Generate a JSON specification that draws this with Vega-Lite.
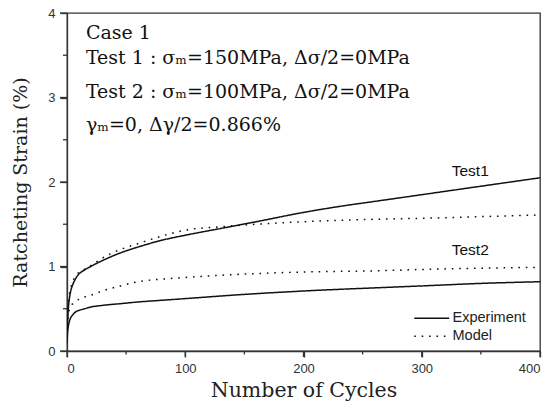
{
  "$schema": "https://vega.github.io/schema/vega-lite/v6.json",
  "width": 473,
  "height": 338,
  "autosize": "none",
  "padding": {"left": 67, "top": 13, "right": 12, "bottom": 60},
  "background": "white",
  "config": {
    "view": {"stroke": "#333", "strokeWidth": 1.3},
    "axis": {
      "grid": false,
      "domainColor": "#333",
      "domainWidth": 1.3,
      "labelFont": "Liberation Sans",
      "labelFontSize": 13,
      "labelColor": "#333",
      "labelPadding": 5,
      "titleFont": "DejaVu Serif",
      "titleFontSize": 19,
      "titleFontWeight": "normal",
      "titleColor": "#222"
    },
    "legend": {
      "orient": "none",
      "legendX": 370,
      "legendY": 298,
      "padding": 0,
      "symbolType": "M-6,0H1",
      "symbolSize": 100,
      "symbolStrokeWidth": 1.5,
      "symbolStrokeColor": "#111",
      "symbolFillColor": "transparent",
      "rowPadding": 3,
      "labelFont": "Liberation Sans",
      "labelFontSize": 14.5,
      "labelColor": "#222",
      "labelOffset": 1,
      "title": null
    }
  },
  "datasets": {
    "curves": [
      {"test": "Test1", "type": "Experiment", "cycle": 0, "strain": 0.12},
      {"test": "Test1", "type": "Experiment", "cycle": 0.5, "strain": 0.35},
      {"test": "Test1", "type": "Experiment", "cycle": 1, "strain": 0.48},
      {"test": "Test1", "type": "Experiment", "cycle": 2, "strain": 0.62},
      {"test": "Test1", "type": "Experiment", "cycle": 3, "strain": 0.7},
      {"test": "Test1", "type": "Experiment", "cycle": 5, "strain": 0.79},
      {"test": "Test1", "type": "Experiment", "cycle": 7, "strain": 0.85},
      {"test": "Test1", "type": "Experiment", "cycle": 10, "strain": 0.91},
      {"test": "Test1", "type": "Experiment", "cycle": 15, "strain": 0.96},
      {"test": "Test1", "type": "Experiment", "cycle": 20, "strain": 1.0},
      {"test": "Test1", "type": "Experiment", "cycle": 30, "strain": 1.07},
      {"test": "Test1", "type": "Experiment", "cycle": 45, "strain": 1.16},
      {"test": "Test1", "type": "Experiment", "cycle": 60, "strain": 1.23},
      {"test": "Test1", "type": "Experiment", "cycle": 80, "strain": 1.31},
      {"test": "Test1", "type": "Experiment", "cycle": 100, "strain": 1.37},
      {"test": "Test1", "type": "Experiment", "cycle": 130, "strain": 1.45},
      {"test": "Test1", "type": "Experiment", "cycle": 160, "strain": 1.53},
      {"test": "Test1", "type": "Experiment", "cycle": 200, "strain": 1.64},
      {"test": "Test1", "type": "Experiment", "cycle": 230, "strain": 1.71},
      {"test": "Test1", "type": "Experiment", "cycle": 265, "strain": 1.78},
      {"test": "Test1", "type": "Experiment", "cycle": 300, "strain": 1.85},
      {"test": "Test1", "type": "Experiment", "cycle": 350, "strain": 1.95},
      {"test": "Test1", "type": "Experiment", "cycle": 400, "strain": 2.05},

      {"test": "Test1", "type": "Model", "cycle": 0, "strain": 0.15},
      {"test": "Test1", "type": "Model", "cycle": 0.5, "strain": 0.4},
      {"test": "Test1", "type": "Model", "cycle": 1, "strain": 0.55},
      {"test": "Test1", "type": "Model", "cycle": 2, "strain": 0.67},
      {"test": "Test1", "type": "Model", "cycle": 3, "strain": 0.74},
      {"test": "Test1", "type": "Model", "cycle": 5, "strain": 0.83},
      {"test": "Test1", "type": "Model", "cycle": 7, "strain": 0.88},
      {"test": "Test1", "type": "Model", "cycle": 10, "strain": 0.93},
      {"test": "Test1", "type": "Model", "cycle": 15, "strain": 0.97},
      {"test": "Test1", "type": "Model", "cycle": 20, "strain": 1.01},
      {"test": "Test1", "type": "Model", "cycle": 30, "strain": 1.1},
      {"test": "Test1", "type": "Model", "cycle": 45, "strain": 1.2},
      {"test": "Test1", "type": "Model", "cycle": 60, "strain": 1.27},
      {"test": "Test1", "type": "Model", "cycle": 80, "strain": 1.36},
      {"test": "Test1", "type": "Model", "cycle": 100, "strain": 1.43},
      {"test": "Test1", "type": "Model", "cycle": 130, "strain": 1.47},
      {"test": "Test1", "type": "Model", "cycle": 160, "strain": 1.5},
      {"test": "Test1", "type": "Model", "cycle": 200, "strain": 1.53},
      {"test": "Test1", "type": "Model", "cycle": 265, "strain": 1.56},
      {"test": "Test1", "type": "Model", "cycle": 300, "strain": 1.57},
      {"test": "Test1", "type": "Model", "cycle": 350, "strain": 1.59},
      {"test": "Test1", "type": "Model", "cycle": 400, "strain": 1.61},

      {"test": "Test2", "type": "Experiment", "cycle": 0, "strain": 0.1},
      {"test": "Test2", "type": "Experiment", "cycle": 0.5, "strain": 0.22},
      {"test": "Test2", "type": "Experiment", "cycle": 1, "strain": 0.28},
      {"test": "Test2", "type": "Experiment", "cycle": 2, "strain": 0.35},
      {"test": "Test2", "type": "Experiment", "cycle": 3, "strain": 0.39},
      {"test": "Test2", "type": "Experiment", "cycle": 5, "strain": 0.43},
      {"test": "Test2", "type": "Experiment", "cycle": 7, "strain": 0.46},
      {"test": "Test2", "type": "Experiment", "cycle": 10, "strain": 0.48},
      {"test": "Test2", "type": "Experiment", "cycle": 15, "strain": 0.5},
      {"test": "Test2", "type": "Experiment", "cycle": 20, "strain": 0.52},
      {"test": "Test2", "type": "Experiment", "cycle": 30, "strain": 0.54},
      {"test": "Test2", "type": "Experiment", "cycle": 45, "strain": 0.56},
      {"test": "Test2", "type": "Experiment", "cycle": 60, "strain": 0.58},
      {"test": "Test2", "type": "Experiment", "cycle": 80, "strain": 0.6},
      {"test": "Test2", "type": "Experiment", "cycle": 100, "strain": 0.62},
      {"test": "Test2", "type": "Experiment", "cycle": 150, "strain": 0.67},
      {"test": "Test2", "type": "Experiment", "cycle": 200, "strain": 0.71},
      {"test": "Test2", "type": "Experiment", "cycle": 265, "strain": 0.75},
      {"test": "Test2", "type": "Experiment", "cycle": 300, "strain": 0.77},
      {"test": "Test2", "type": "Experiment", "cycle": 350, "strain": 0.8},
      {"test": "Test2", "type": "Experiment", "cycle": 400, "strain": 0.82},

      {"test": "Test2", "type": "Model", "cycle": 0, "strain": 0.12},
      {"test": "Test2", "type": "Model", "cycle": 0.5, "strain": 0.3},
      {"test": "Test2", "type": "Model", "cycle": 1, "strain": 0.4},
      {"test": "Test2", "type": "Model", "cycle": 2, "strain": 0.49},
      {"test": "Test2", "type": "Model", "cycle": 3, "strain": 0.53},
      {"test": "Test2", "type": "Model", "cycle": 5, "strain": 0.56},
      {"test": "Test2", "type": "Model", "cycle": 7, "strain": 0.58},
      {"test": "Test2", "type": "Model", "cycle": 10, "strain": 0.61},
      {"test": "Test2", "type": "Model", "cycle": 15, "strain": 0.64},
      {"test": "Test2", "type": "Model", "cycle": 20, "strain": 0.66},
      {"test": "Test2", "type": "Model", "cycle": 30, "strain": 0.71},
      {"test": "Test2", "type": "Model", "cycle": 45, "strain": 0.77},
      {"test": "Test2", "type": "Model", "cycle": 60, "strain": 0.82},
      {"test": "Test2", "type": "Model", "cycle": 80, "strain": 0.85},
      {"test": "Test2", "type": "Model", "cycle": 100, "strain": 0.87},
      {"test": "Test2", "type": "Model", "cycle": 150, "strain": 0.91},
      {"test": "Test2", "type": "Model", "cycle": 200, "strain": 0.935},
      {"test": "Test2", "type": "Model", "cycle": 265, "strain": 0.95},
      {"test": "Test2", "type": "Model", "cycle": 300, "strain": 0.965},
      {"test": "Test2", "type": "Model", "cycle": 350, "strain": 0.98},
      {"test": "Test2", "type": "Model", "cycle": 400, "strain": 0.99}
    ],
    "cycleTicks": [
      {"cycle": 0, "major": true}, {"cycle": 50, "major": false},
      {"cycle": 100, "major": true}, {"cycle": 150, "major": false},
      {"cycle": 200, "major": true}, {"cycle": 250, "major": false},
      {"cycle": 300, "major": true}, {"cycle": 350, "major": false},
      {"cycle": 400, "major": true}
    ],
    "strainTicks": [
      {"strain": 0, "major": true}, {"strain": 0.5, "major": false},
      {"strain": 1, "major": true}, {"strain": 1.5, "major": false},
      {"strain": 2, "major": true}, {"strain": 2.5, "major": false},
      {"strain": 3, "major": true}, {"strain": 3.5, "major": false},
      {"strain": 4, "major": true}
    ],
    "one": [{}]
  },
  "layer": [
    {
      "data": {"name": "curves"},
      "mark": {"type": "line", "interpolate": "monotone", "strokeWidth": 1.5, "color": "#111", "clip": true},
      "encoding": {
        "x": {
          "field": "cycle", "type": "quantitative",
          "scale": {"domain": [0, 400], "nice": false},
          "title": "Number of Cycles",
          "axis": {
            "values": [0, 100, 200, 300, 400],
            "format": "d",
            "ticks": true,
            "tickSize": 6,
            "tickColor": "#333",
            "tickWidth": 1.3,
            "titleFontSize": 20.5,
            "titlePadding": 5
          }
        },
        "y": {
          "field": "strain", "type": "quantitative",
          "scale": {"domain": [0, 4], "nice": false},
          "title": "Ratcheting Strain (%)",
          "axis": {
            "values": [0, 1, 2, 3, 4],
            "format": "d",
            "ticks": true,
            "tickSize": 7,
            "tickColor": "#333",
            "tickWidth": 1.3,
            "titlePadding": 17
          }
        },
        "detail": {"field": "test"},
        "strokeDash": {
          "field": "type", "type": "nominal",
          "scale": {"domain": ["Experiment", "Model"], "range": [[1, 0], [1.6, 5.8]]}
        }
      }
    },
    {
      "data": {"name": "cycleTicks"},
      "transform": [{"filter": "datum.major"}],
      "mark": {"type": "tick", "orient": "vertical", "size": 6, "thickness": 1.3, "yOffset": 3, "color": "#333", "opacity": 1},
      "encoding": {
        "x": {"field": "cycle", "type": "quantitative", "title": "Number of Cycles"},
        "y": {"datum": 0, "type": "quantitative", "title": "Ratcheting Strain (%)"}
      }
    },
    {
      "data": {"name": "cycleTicks"},
      "transform": [{"filter": "!datum.major"}],
      "mark": {"type": "tick", "orient": "vertical", "size": 3.5, "thickness": 1.3, "yOffset": 1.75, "color": "#333", "opacity": 1},
      "encoding": {
        "x": {"field": "cycle", "type": "quantitative", "title": "Number of Cycles"},
        "y": {"datum": 0, "type": "quantitative", "title": "Ratcheting Strain (%)"}
      }
    },
    {
      "data": {"name": "strainTicks"},
      "transform": [{"filter": "datum.major"}],
      "mark": {"type": "tick", "orient": "horizontal", "size": 7, "thickness": 1.3, "xOffset": -3.5, "color": "#333", "opacity": 1},
      "encoding": {
        "x": {"datum": 0, "type": "quantitative", "title": "Number of Cycles"},
        "y": {"field": "strain", "type": "quantitative", "title": "Ratcheting Strain (%)"}
      }
    },
    {
      "data": {"name": "strainTicks"},
      "transform": [{"filter": "!datum.major"}],
      "mark": {"type": "tick", "orient": "horizontal", "size": 4, "thickness": 1.3, "xOffset": -2, "color": "#333", "opacity": 1},
      "encoding": {
        "x": {"datum": 0, "type": "quantitative", "title": "Number of Cycles"},
        "y": {"field": "strain", "type": "quantitative", "title": "Ratcheting Strain (%)"}
      }
    },
    {
      "data": {"name": "one"},
      "mark": {"type": "text", "font": "DejaVu Serif", "fontSize": 19, "align": "left", "baseline": "alphabetic", "color": "#111"},
      "encoding": {
        "x": {"datum": 16, "type": "quantitative"},
        "y": {"datum": 3.687, "type": "quantitative"},
        "text": {"value": "Case 1"}
      }
    },
    {
      "data": {"name": "one"},
      "mark": {"type": "text", "font": "DejaVu Serif", "fontSize": 19, "align": "left", "baseline": "alphabetic", "color": "#111"},
      "encoding": {
        "x": {"datum": 16, "type": "quantitative"},
        "y": {"datum": 3.4, "type": "quantitative"},
        "text": {"value": "Test 1 : σₘ=150MPa, Δσ/2=0MPa"}
      }
    },
    {
      "data": {"name": "one"},
      "mark": {"type": "text", "font": "DejaVu Serif", "fontSize": 19, "align": "left", "baseline": "alphabetic", "color": "#111"},
      "encoding": {
        "x": {"datum": 16, "type": "quantitative"},
        "y": {"datum": 2.995, "type": "quantitative"},
        "text": {"value": "Test 2 : σₘ=100MPa, Δσ/2=0MPa"}
      }
    },
    {
      "data": {"name": "one"},
      "mark": {"type": "text", "font": "DejaVu Serif", "fontSize": 19, "align": "left", "baseline": "alphabetic", "color": "#111"},
      "encoding": {
        "x": {"datum": 16, "type": "quantitative"},
        "y": {"datum": 2.604, "type": "quantitative"},
        "text": {"value": "γₘ=0, Δγ/2=0.866%"}
      }
    },
    {
      "data": {"name": "one"},
      "mark": {"type": "text", "font": "Liberation Sans", "fontSize": 15.5, "align": "center", "baseline": "middle", "color": "#111"},
      "encoding": {
        "x": {"datum": 341, "type": "quantitative"},
        "y": {"datum": 2.13, "type": "quantitative"},
        "text": {"value": "Test1"}
      }
    },
    {
      "data": {"name": "one"},
      "mark": {"type": "text", "font": "Liberation Sans", "fontSize": 15.5, "align": "center", "baseline": "middle", "color": "#111"},
      "encoding": {
        "x": {"datum": 341, "type": "quantitative"},
        "y": {"datum": 1.2, "type": "quantitative"},
        "text": {"value": "Test2"}
      }
    }
  ]
}
